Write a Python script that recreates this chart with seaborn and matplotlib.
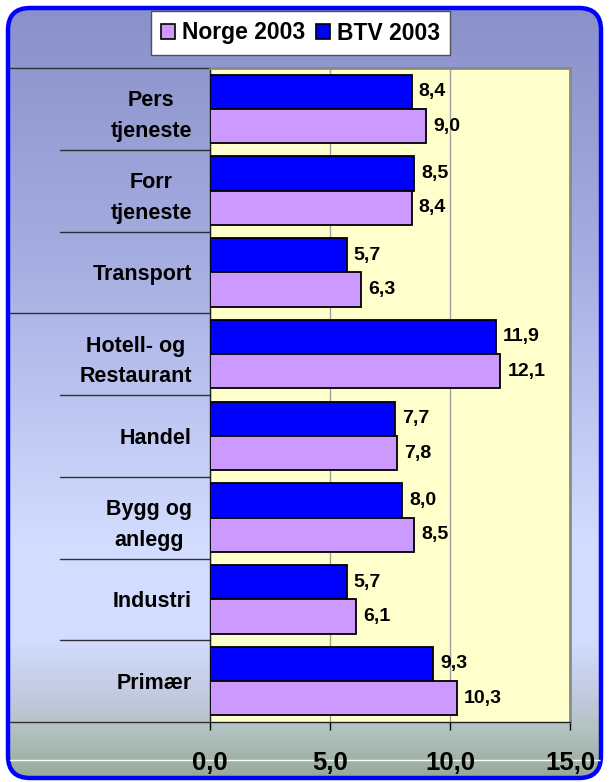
import numpy as np
import pandas as pd
import matplotlib
matplotlib.use('Agg')
import matplotlib.pyplot as plt
import matplotlib.transforms as mtransforms
from matplotlib.patches import FancyBboxPatch, Patch
import seaborn as sns

# data
sectors = ['Pers\ntjeneste', 'Forr\ntjeneste', 'Transport', 'Hotell- og\nRestaurant',
           'Handel', 'Bygg og\nanlegg', 'Industri', 'Primær']
btv_2003 = [8.4, 8.5, 5.7, 11.9, 7.7, 8.0, 5.7, 9.3]
norge_2003 = [9.0, 8.4, 6.3, 12.1, 7.8, 8.5, 6.1, 10.3]
series_names = ['Norge 2003', 'BTV 2003']
x_ticks = [0, 5, 10, 15]
x_ticklabels = ['0,0', '5,0', '10,0', '15,0']

colors = {'Norge 2003': '#CC99FF', 'BTV 2003': '#0000FF'}

df = pd.DataFrame({
    'sector': sectors * 2,
    'value': btv_2003 + norge_2003,
    'series': ['BTV 2003'] * len(sectors) + ['Norge 2003'] * len(sectors),
})

sns.set_style('white')
plt.rcParams['font.family'] = ['Liberation Sans', 'DejaVu Sans']
plt.rcParams['font.weight'] = 'bold'
plt.rcParams['text.color'] = 'black'
plt.rcParams['xtick.color'] = 'black'
plt.rcParams['ytick.color'] = 'black'
plt.rcParams['xtick.labelcolor'] = 'black'
plt.rcParams['ytick.labelcolor'] = 'black'

W, H = 609, 782
fig = plt.figure(figsize=(W / 100, H / 100), dpi=100)
fig.patch.set_facecolor('white')

# background panel with gradient and rounded blue border
bg = fig.add_axes([0, 0, 1, 1], zorder=-5)
bg.set_xlim(0, W)
bg.set_ylim(H, 0)
bg.axis('off')
stops_y = [0, 250, 540, 640, 700, 725, 782]
stops_c = ['#8890C8', '#A4ACE0', '#D2DCFF', '#D2DCFF', '#C0C8DC', '#B4C4C4', '#94A894']
rgb = np.array([matplotlib.colors.to_rgb(c) for c in stops_c])
yy = np.arange(H)
grad = np.stack([np.interp(yy, stops_y, rgb[:, k]) for k in range(3)], axis=1)[:, None, :]
im = bg.imshow(grad, extent=(0, W, H, 0), aspect='auto')
panel = FancyBboxPatch((8, 8), W - 16, H - 12, boxstyle='round,pad=0,rounding_size=22',
                       facecolor='none', edgecolor='#0000FF', linewidth=3.2)
bg.add_patch(panel)
im.set_clip_path(panel)
bg.plot([10, 600], [760, 760], color='white', linewidth=1, clip_path=panel)

# main bar chart
ax = fig.add_axes([210 / W, (H - 722) / H, 360 / W, 654 / H])
ax.set_facecolor('#FFFFCC')
sns.barplot(data=df, y='sector', x='value', hue='series', hue_order=['BTV 2003', 'Norge 2003'],
            palette=colors, orient='h', width=0.84, saturation=1, edgecolor='black',
            linewidth=1.3, legend=False, ax=ax, zorder=3)

for cont, vals in zip(ax.containers, [btv_2003, norge_2003]):
    ax.bar_label(cont, labels=[f'{v:.1f}'.replace('.', ',') for v in vals], padding=5,
                 fontsize=14, fontweight='bold', color='black')

ax.set_xlim(0, 15)
ax.set_ylim(len(sectors) - 0.5, -0.5)
ax.set_xticks(x_ticks)
ax.set_xticklabels(x_ticklabels, fontsize=18.5, fontweight='bold')
ax.tick_params(axis='x', direction='out', length=6, width=1, color='black', pad=15, bottom=True)
ax.tick_params(axis='y', length=0, pad=13)
for lab in ax.get_yticklabels():
    lab.set_fontsize(15.5)
    lab.set_fontweight('bold')
    lab.set_multialignment('center')
    lab.set_linespacing(1.6)
ax.set_xlabel('')
ax.set_ylabel('')
ax.xaxis.grid(True, color='#A0A0A0', linewidth=1, zorder=0)
ax.set_axisbelow(True)
for side in ['left', 'bottom']:
    ax.spines[side].set_color('#202020')
    ax.spines[side].set_linewidth(1)
for side in ['top', 'right']:
    ax.spines[side].set_color('#8A8A8A')
    ax.spines[side].set_linewidth(2)

# category separator lines on the left
trans = mtransforms.blended_transform_factory(ax.transAxes, ax.transData)
for i in range(len(sectors) + 1):
    x0 = -200 / 360 if i in (0, 3, len(sectors)) else -150 / 360
    ax.plot([x0, 0], [i - 0.5, i - 0.5], color='#303030', linewidth=1,
            transform=trans, clip_on=False)

# legend
handles = [Patch(facecolor=colors[n], edgecolor='black', linewidth=1.2) for n in series_names]
leg = fig.legend(handles, series_names, loc='center', bbox_to_anchor=(300.5 / W, 1 - 33 / H),
                 ncol=2, frameon=True, fancybox=False, framealpha=1, edgecolor='#505050',
                 prop={'size': 16.5, 'weight': 'bold'}, handlelength=0.6, handleheight=0.6,
                 handletextpad=0.3, columnspacing=0.5, borderpad=0.45)
leg.get_frame().set_linewidth(1)

fig.savefig('out.png', dpi=100)
